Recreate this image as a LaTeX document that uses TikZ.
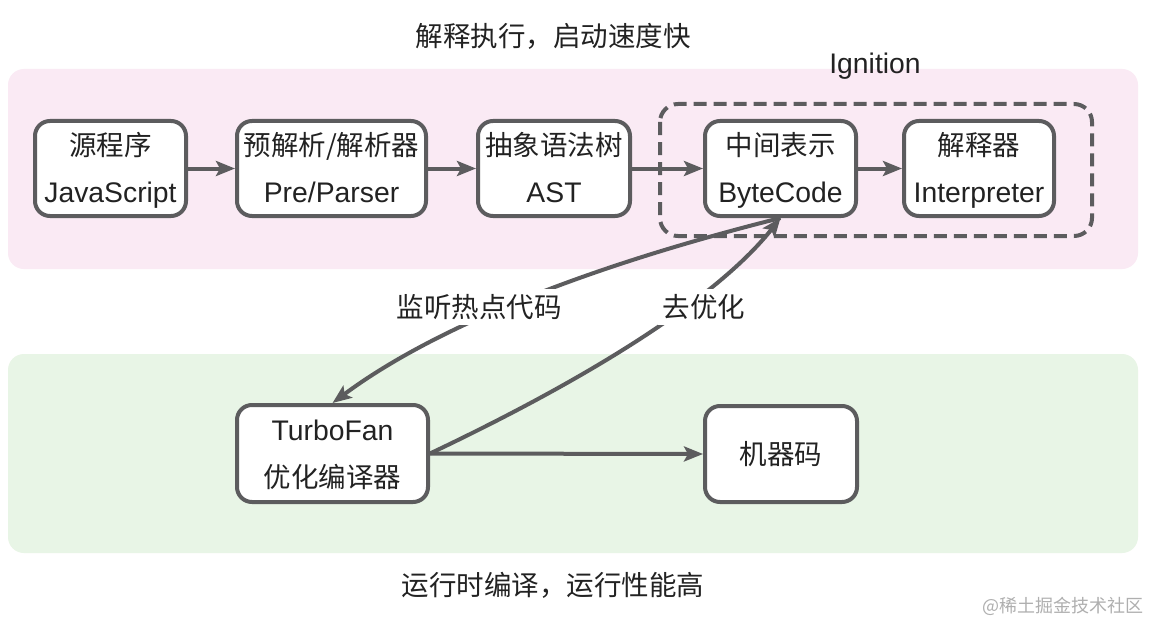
\documentclass[tikz,border=0pt]{standalone}
\usepackage{fontspec}
\setmainfont{Liberation Sans}[Scale=1.03]
\newfontfamily\cjk{Noto Sans CJK SC}
\usetikzlibrary{arrows.meta}
\definecolor{pinkbg}{RGB}{250,234,244}
\definecolor{greenbg}{RGB}{232,245,230}
\definecolor{edgec}{RGB}{92,92,94}
\definecolor{ink}{RGB}{34,34,34}
\definecolor{wmc}{RGB}{175,175,175}
\newcommand{\zh}[1]{{\cjk #1}}
\newcommand{\toprl}{\rule{0pt}{28pt}}
\newcommand{\botrl}{\rule[-7pt]{0pt}{7pt}}
\begin{document}
\begin{tikzpicture}[x=1pt,y=-1pt,
  every node/.style={text=ink, font=\fontsize{27.5}{47}\selectfont},
  box/.style={draw=edgec, line width=4pt, fill=white, rounded corners=15pt, align=center, inner sep=0pt},
  arr/.style={draw=edgec, line width=4pt, -{Stealth[length=19pt,width=15pt,inset=4pt]}},
  link/.style={draw=edgec, line width=4pt},
  lbl/.style={fill=white, inner sep=5pt},
  grp/.style={draw=edgec, line width=4pt, dash pattern=on 13pt off 7pt, rounded corners=18pt}
]
\useasboundingbox (0,0) rectangle (1150,623);
\fill[white] (0,0) rectangle (1150,623);
\fill[pinkbg, rounded corners=16pt] (8,69) rectangle (1138,269);
\fill[greenbg, rounded corners=16pt] (8,354) rectangle (1138,553);

\node (t1) at (553,36) {\zh{解释执行，启动速度快}};
\node (t2) at (553,585) {\zh{运行时编译，运行性能高}};
\node (ign) at (875,66) {Ignition};

\draw[grp] (660,104) rectangle (1092,236);

\node[box, minimum width=151pt, minimum height=95pt] (b1) at (110.5,168.5) {\toprl\zh{源程序}\\JavaScript\botrl};
\node[box, minimum width=189pt, minimum height=95pt] (b2) at (331.5,168.5) {\toprl\zh{预解析/解析器}\\Pre/Parser\botrl};
\node[box, minimum width=152pt, minimum height=95pt] (b3) at (554,168.5) {\toprl\zh{抽象语法树}\\AST\botrl};
\node[box, minimum width=151pt, minimum height=95pt] (b4) at (780.5,168.5) {\toprl\zh{中间表示}\\ByteCode\botrl};
\node[box, minimum width=150pt, minimum height=95pt] (b5) at (979,168.5) {\toprl\zh{解释器}\\Interpreter\botrl};

\node[box, minimum width=191pt, minimum height=97pt] (tf) at (332.5,453.5) {\toprl TurboFan\\\zh{优化编译器}\botrl};
\node[box, minimum width=152pt, minimum height=96pt] (mc) at (781,454) {\zh{机器码}};

\draw[arr] (b1.east) -- (b2.west);
\draw[arr] (b2.east) -- (b3.west);
\draw[arr] (b3.east) -- (b4.west);
\draw[arr] (b4.east) -- (b5.west);
\draw[arr] (tf.east) -- (mc.west);

\draw[arr] (b4.south) .. controls (581,268) and (432,329) .. (tf.north);
\draw[arr] (tf.east) .. controls (606,370) and (722,292) .. (b4.south);

\node[lbl] (l1) at (479,307) {\zh{监听热点代码}};
\node[lbl] (l2) at (704,307) {\zh{去优化}};

\node[text=wmc, font=\fontsize{18}{20}\selectfont] (wm) at (1063,606) {\zh{@稀土掘金技术社区}};
\end{tikzpicture}
\end{document}
